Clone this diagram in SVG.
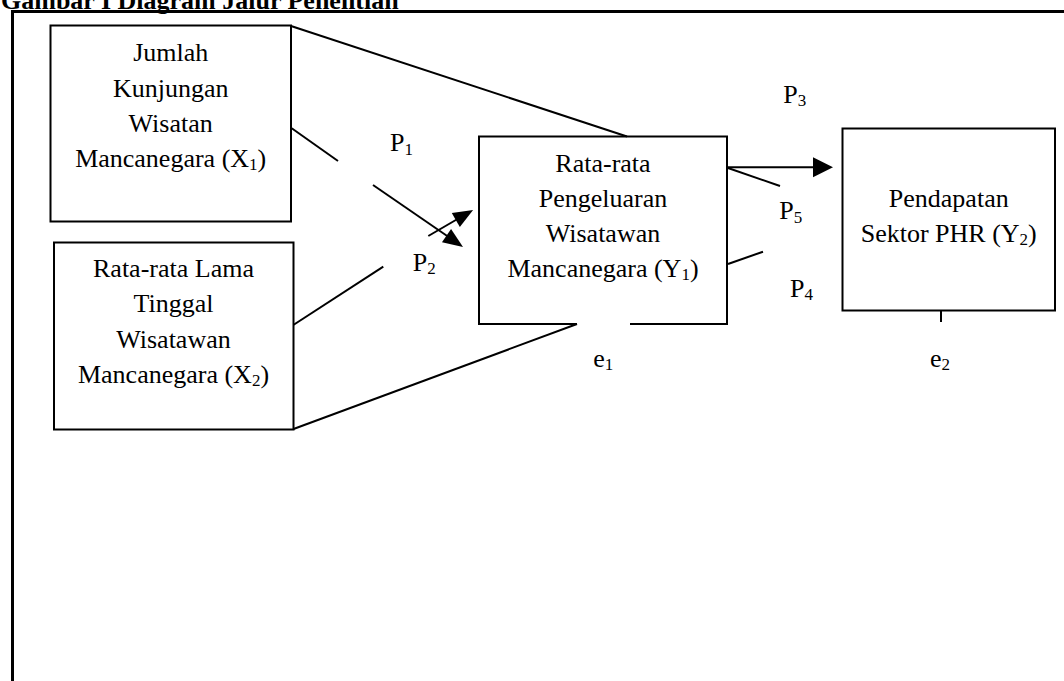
<svg xmlns="http://www.w3.org/2000/svg" width="1064" height="681" viewBox="0 0 1064 681">
<style>
  text { font-family: "Liberation Serif", "Times New Roman", serif; font-size: 26px; fill: #000; }
  .c { text-anchor: middle; }
  .sub { font-size: 17px; }
  .title { font-weight: bold; font-size: 26px; }
  .box { fill: #fff; stroke: #000; stroke-width: 2; }
  .ln { fill: none; stroke: #000; stroke-width: 2; }
  .frame { fill: none; stroke: #000; stroke-width: 3; }
</style>
<defs>
  <marker id="ah" markerUnits="userSpaceOnUse" markerWidth="20" markerHeight="16" refX="3" refY="8" orient="auto" overflow="visible">
    <path d="M0,0 L20,8 L0,16 Z" fill="#000"/>
  </marker>
  <marker id="ah2" markerUnits="userSpaceOnUse" markerWidth="20" markerHeight="20" refX="3" refY="10" orient="auto" overflow="visible">
    <path d="M0,0 L20,10 L0,20 Z" fill="#000"/>
  </marker>
</defs>
<rect width="1064" height="681" fill="#fff"/>
<text class="title" x="1" y="9">Gambar I Diagram Jalur Penelitian</text>
<path class="frame" d="M12.5,681 V11.5 H1064"/>

<g id="connectors">
  <line class="ln" x1="291" y1="26" x2="627" y2="136.5"/>
  <line class="ln" x1="291.7" y1="128.3" x2="338" y2="161"/>
  <line class="ln" x1="373" y1="185" x2="449" y2="237.3" marker-end="url(#ah)"/>
  <line class="ln" x1="293.3" y1="325" x2="383.3" y2="266.7"/>
  <line class="ln" x1="428.3" y1="236" x2="458.4" y2="218.5" marker-end="url(#ah)"/>
  <line class="ln" x1="293.5" y1="429" x2="577" y2="324"/>
  <line class="ln" x1="727" y1="167.3" x2="816" y2="167.3" marker-end="url(#ah2)"/>
  <line class="ln" x1="728" y1="168" x2="780" y2="186"/>
  <line class="ln" x1="728" y1="264" x2="763" y2="251.7"/>
  <line class="ln" x1="941" y1="311" x2="941" y2="322"/>
</g>

<g id="x1">
  <rect class="box" x="50.5" y="25.5" width="240.5" height="196"/>
  <text class="c" x="170.7" y="61">Jumlah</text>
  <text class="c" x="170.7" y="96.5">Kunjungan</text>
  <text class="c" x="170.7" y="131.5">Wisatan</text>
  <text class="c" x="170.7" y="166.5">Mancanegara (X<tspan class="sub" dy="3">1</tspan><tspan dy="-3">)</tspan></text>
</g>

<g id="x2">
  <rect class="box" x="54" y="242.5" width="239.5" height="187"/>
  <text class="c" x="173.5" y="277">Rata-rata Lama</text>
  <text class="c" x="173.5" y="312">Tinggal</text>
  <text class="c" x="173.5" y="347.5">Wisatawan</text>
  <text class="c" x="173.5" y="383">Mancanegara (X<tspan class="sub" dy="3">2</tspan><tspan dy="-3">)</tspan></text>
</g>

<g id="y1">
  <path d="M577,324 H479 V136.5 H727 V324 H630" fill="none" stroke="#000" stroke-width="2"/>
  <text class="c" x="603" y="171.7">Rata-rata</text>
  <text class="c" x="603" y="206.7">Pengeluaran</text>
  <text class="c" x="603" y="241.7">Wisatawan</text>
  <text class="c" x="603" y="276.7">Mancanegara (Y<tspan class="sub" dy="3">1</tspan><tspan dy="-3">)</tspan></text>
</g>

<g id="y2">
  <rect class="box" x="842.5" y="128.5" width="212.5" height="182"/>
  <text class="c" x="948.75" y="207">Pendapatan</text>
  <text class="c" x="948.75" y="241.5">Sektor PHR (Y<tspan class="sub" dy="3">2</tspan><tspan dy="-3">)</tspan></text>
</g>

<g id="labels">
  <text x="390" y="151">P<tspan class="sub" dy="3.5">1</tspan></text>
  <text x="412.7" y="270.7">P<tspan class="sub" dy="3.5">2</tspan></text>
  <text x="783.3" y="102.7">P<tspan class="sub" dy="3.5">3</tspan></text>
  <text x="779.3" y="219.3">P<tspan class="sub" dy="3.5">5</tspan></text>
  <text x="790" y="296.7">P<tspan class="sub" dy="3.5">4</tspan></text>
  <text x="593.3" y="366.5">e<tspan class="sub" dy="3.5">1</tspan></text>
  <text x="930" y="366.5">e<tspan class="sub" dy="3.5">2</tspan></text>
</g>
</svg>
